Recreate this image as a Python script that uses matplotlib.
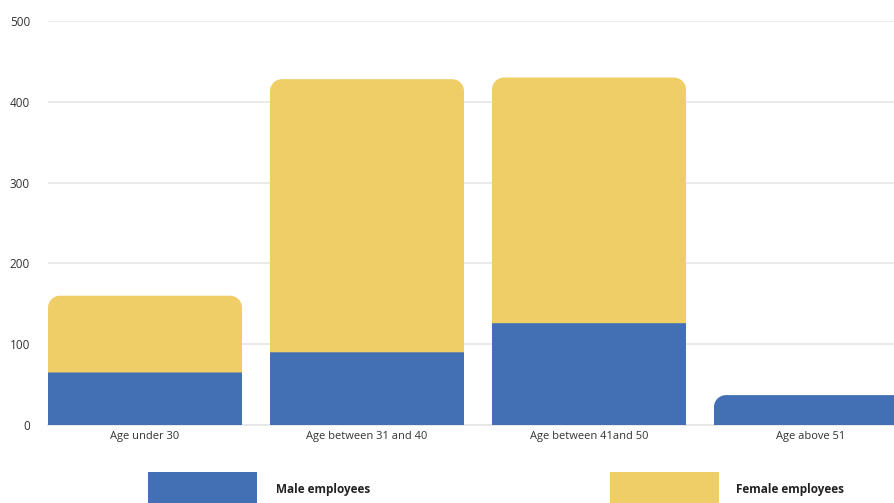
import numpy as np
import matplotlib.pyplot as plt
from matplotlib.path import Path
from matplotlib.patches import PathPatch, Rectangle

categories = ['Age under 30', 'Age between 31 and 40', 'Age between 41and 50', 'Age above 51']
male = [65, 90, 126, 37]
female = [95, 338, 304, 0]
series_names = ['Male employees', 'Female employees']
colors = ['#4370B4', '#F0CE67']

plt.rcParams['font.family'] = ['Open Sans', 'DejaVu Sans']

fig = plt.figure(figsize=(8.94, 5.03), dpi=100)
ax = fig.add_axes([48 / 894, 78 / 503, 1 - 48 / 894, 404 / 503])

x = np.arange(len(categories))
width = 0.874
ax.set_xlim(-0.437, 3.374)
ax.set_ylim(0, 500)

b1 = ax.bar(x, male, width, color=colors[0], zorder=3)
b2 = ax.bar(x, female, width, bottom=male, color=colors[1], zorder=3)

# round the top corners of the upper-most segment of every stack
fig.canvas.draw()
px_x = ax.transData.transform((1, 0))[0] - ax.transData.transform((0, 0))[0]
px_y = ax.transData.transform((0, 1))[1] - ax.transData.transform((0, 0))[1]
r = 12
rx, ry = r / px_x, r / px_y
k = 0.5523


def rounded_top(rect):
    x0, y0 = rect.get_x(), rect.get_y()
    w, h = rect.get_width(), rect.get_height()
    x1, y1 = x0 + w, y0 + h
    verts = [(x0, y0), (x0, y1 - ry),
             (x0, y1 - ry + k * ry), (x0 + rx - k * rx, y1), (x0 + rx, y1),
             (x1 - rx, y1),
             (x1 - rx + k * rx, y1), (x1, y1 - ry + k * ry), (x1, y1 - ry),
             (x1, y0), (x0, y0)]
    codes = [Path.MOVETO, Path.LINETO,
             Path.CURVE4, Path.CURVE4, Path.CURVE4,
             Path.LINETO,
             Path.CURVE4, Path.CURVE4, Path.CURVE4,
             Path.LINETO, Path.CLOSEPOLY]
    return Path(verts, codes)


for rm, rf in zip(b1, b2):
    top = rf if rf.get_height() > 0 else rm
    top.set_visible(False)
    ax.add_patch(PathPatch(rounded_top(top), facecolor=top.get_facecolor(),
                           edgecolor='none', zorder=3))

ax.set_yticks([0, 100, 200, 300, 400, 500])
ax.set_xticks(x)
ax.set_xticklabels(categories)
ax.yaxis.grid(True, color='#e8e8e8', linewidth=1.3, zorder=0)
ax.tick_params(axis='both', length=0, labelcolor='#333333')
ax.tick_params(axis='y', pad=13, labelsize=8.5)
ax.tick_params(axis='x', pad=4, labelsize=8)
for s in ['top', 'right', 'left']:
    ax.spines[s].set_visible(False)
ax.spines['bottom'].set_color('#e6e6e6')
ax.spines['bottom'].set_linewidth(1.3)

# legend at the bottom
for name, col, xl, xt in zip(series_names, colors, [148, 610], [276, 736]):
    fig.add_artist(Rectangle((xl / 894, -10 / 503), 109 / 894, 41 / 503,
                             transform=fig.transFigure, facecolor=col, edgecolor='none'))
    fig.text(xt / 894, 14 / 503, name, fontsize=8.5, fontweight='bold',
             color='#222222', va='center', ha='left')

fig.savefig('out.png', dpi=100)
